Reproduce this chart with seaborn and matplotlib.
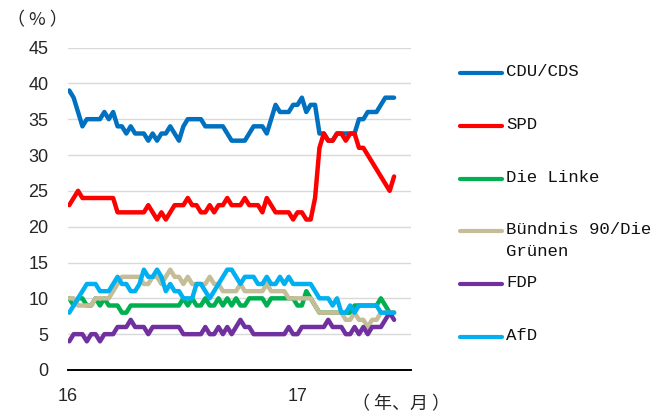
import numpy as np
import pandas as pd
import matplotlib.pyplot as plt
import matplotlib.dates as mdates
from matplotlib.lines import Line2D
import seaborn as sns

sns.set_style('white')
plt.rcParams['font.family'] = ['Liberation Sans', 'DejaVu Sans']

# weekly polls, Jan 2016 - Jun 2017
dates = pd.date_range('2016-01-03', periods=75, freq='7D')

cdu = [39, 38, 36, 34, 35, 35, 35, 35, 36, 35,
       36, 34, 34, 33, 34, 33, 33, 33, 32, 33,
       32, 33, 33, 34, 33, 32, 34, 35, 35, 35,
       35, 34, 34, 34, 34, 34, 33, 32, 32, 32,
       32, 33, 34, 34, 34, 33, 35, 37, 36, 36,
       36, 37, 37, 38, 36, 37, 37, 33, 33, 32,
       32, 33, 33, 33, 33, 33, 35, 35, 36, 36,
       36, 37, 38, 38, 38]
spd = [23, 24, 25, 24, 24, 24, 24, 24, 24, 24,
       24, 22, 22, 22, 22, 22, 22, 22, 23, 22,
       21, 22, 21, 22, 23, 23, 23, 24, 23, 23,
       22, 22, 23, 22, 23, 23, 24, 23, 23, 23,
       24, 23, 23, 23, 22, 24, 23, 22, 22, 22,
       22, 21, 22, 22, 21, 21, 24, 31, 33, 32,
       32, 33, 33, 32, 33, 33, 31, 31, 30, 29,
       28, 27, 26, 25, 27]
linke = [10, 9, 10, 10, 9, 9, 10, 9, 10, 9,
         9, 9, 8, 8, 9, 9, 9, 9, 9, 9,
         9, 9, 9, 9, 9, 9, 10, 9, 10, 9,
         9, 10, 9, 9, 10, 9, 10, 9, 10, 9,
         9, 10, 10, 10, 10, 9, 10, 10, 10, 10,
         10, 10, 9, 9, 11, 10, 9, 8, 8, 8,
         8, 8, 8, 8, 8, 9, 9, 9, 9, 9,
         9, 10, 9, 8, 8]
gruene = [10, 10, 9, 9, 9, 9, 10, 10, 10, 10,
          11, 12, 13, 13, 13, 13, 13, 12, 12, 13,
          13, 12, 13, 14, 13, 13, 12, 13, 12, 12,
          12, 12, 13, 12, 12, 11, 11, 11, 11, 12,
          11, 11, 11, 11, 11, 12, 11, 11, 11, 11,
          10, 10, 10, 10, 10, 10, 9, 8, 8, 8,
          8, 8, 8, 7, 7, 8, 7, 7, 6, 7,
          7, 8, 8, 8, 8]
fdp = [4, 5, 5, 5, 4, 5, 5, 4, 5, 5,
       5, 6, 6, 6, 7, 6, 6, 6, 5, 6,
       6, 6, 6, 6, 6, 6, 5, 5, 5, 5,
       5, 6, 5, 5, 6, 5, 6, 5, 6, 7,
       6, 6, 5, 5, 5, 5, 5, 5, 5, 5,
       6, 5, 5, 6, 6, 6, 6, 6, 6, 7,
       6, 6, 6, 5, 5, 6, 5, 6, 5, 6,
       6, 6, 7, 8, 7]
afd = [8, 9, 10, 11, 12, 12, 12, 11, 11, 11,
       12, 13, 12, 12, 11, 11, 12, 14, 13, 13,
       14, 13, 11, 12, 11, 11, 10, 10, 10, 12,
       12, 11, 10, 11, 12, 13, 14, 14, 13, 12,
       13, 13, 13, 12, 12, 13, 12, 12, 13, 12,
       13, 12, 12, 12, 12, 12, 11, 10, 10, 10,
       9, 10, 8, 8, 9, 8, 9, 9, 9, 9,
       9, 8, 8, 8, 8]

parties = ['CDU/CDS', 'SPD', 'Die Linke', 'Bündnis 90/Die\nGrünen', 'FDP', 'AfD']
colors = ['#0070C0', '#FF0000', '#00B050', '#C4BD97', '#7030A0', '#00B0F0']
series = [cdu, spd, linke, gruene, fdp, afd]

df = pd.concat([pd.DataFrame({'date': dates, 'value': v, 'party': p})
                for p, v in zip(parties, series)], ignore_index=True)

W, H = 651, 416
fig = plt.figure(figsize=(W / 100, H / 100), dpi=100)
ax = fig.add_axes([68 / W, 1 - 370 / H, (411 - 68) / W, (370 - 47.5) / H])

sns.lineplot(data=df, x='date', y='value', hue='party', hue_order=parties,
             palette=dict(zip(parties, colors)), linewidth=3.2, legend=False,
             ax=ax, solid_capstyle='round', solid_joinstyle='round')

ax.set_xlim(pd.Timestamp('2016-01-01'), pd.Timestamp('2017-07-01'))
ax.set_ylim(0, 45)
ax.set_yticks(np.arange(0, 46, 5))
ax.yaxis.grid(True, color='#D9D9D9', linewidth=1)
ax.xaxis.grid(False)
ax.set_xlabel('')
ax.set_ylabel('')

ax.xaxis.set_major_locator(mdates.YearLocator())
ax.xaxis.set_major_formatter(mdates.DateFormatter('%y'))
ax.xaxis.set_minor_locator(mdates.MonthLocator())
ax.tick_params(axis='x', which='both', direction='in', length=3.5,
               width=1, color='black', labelsize=13, pad=13)
ax.tick_params(axis='y', length=0, labelsize=13, pad=14)

for s in ['top', 'right', 'left']:
    ax.spines[s].set_visible(False)
ax.spines['bottom'].set_color('black')
ax.spines['bottom'].set_linewidth(1.4)

# legend on the right
for k, (p, c) in enumerate(zip(parties, colors)):
    y = 1 - (73 + 52.8 * k) / H
    fig.add_artist(Line2D([460 / W, 502 / W], [y, y], color=c, linewidth=3,
                          solid_capstyle='round'))
    fig.text(506 / W, y + 9 / H, p, fontsize=12.5, va='top', ha='left',
             family='Liberation Mono', linespacing=1.55, color='#111111')

fig.text(37 / W, 1 - 20 / H, '（ % ）', fontsize=13, ha='center', va='center',
         family=['Noto Sans CJK JP', 'DejaVu Sans'])
fig.text(352 / W, 1 - 404 / H, '（ 年、月 ）', fontsize=13, ha='left', va='center',
         family=['Noto Sans CJK JP', 'DejaVu Sans'])

plt.savefig('out.png', dpi=100)
